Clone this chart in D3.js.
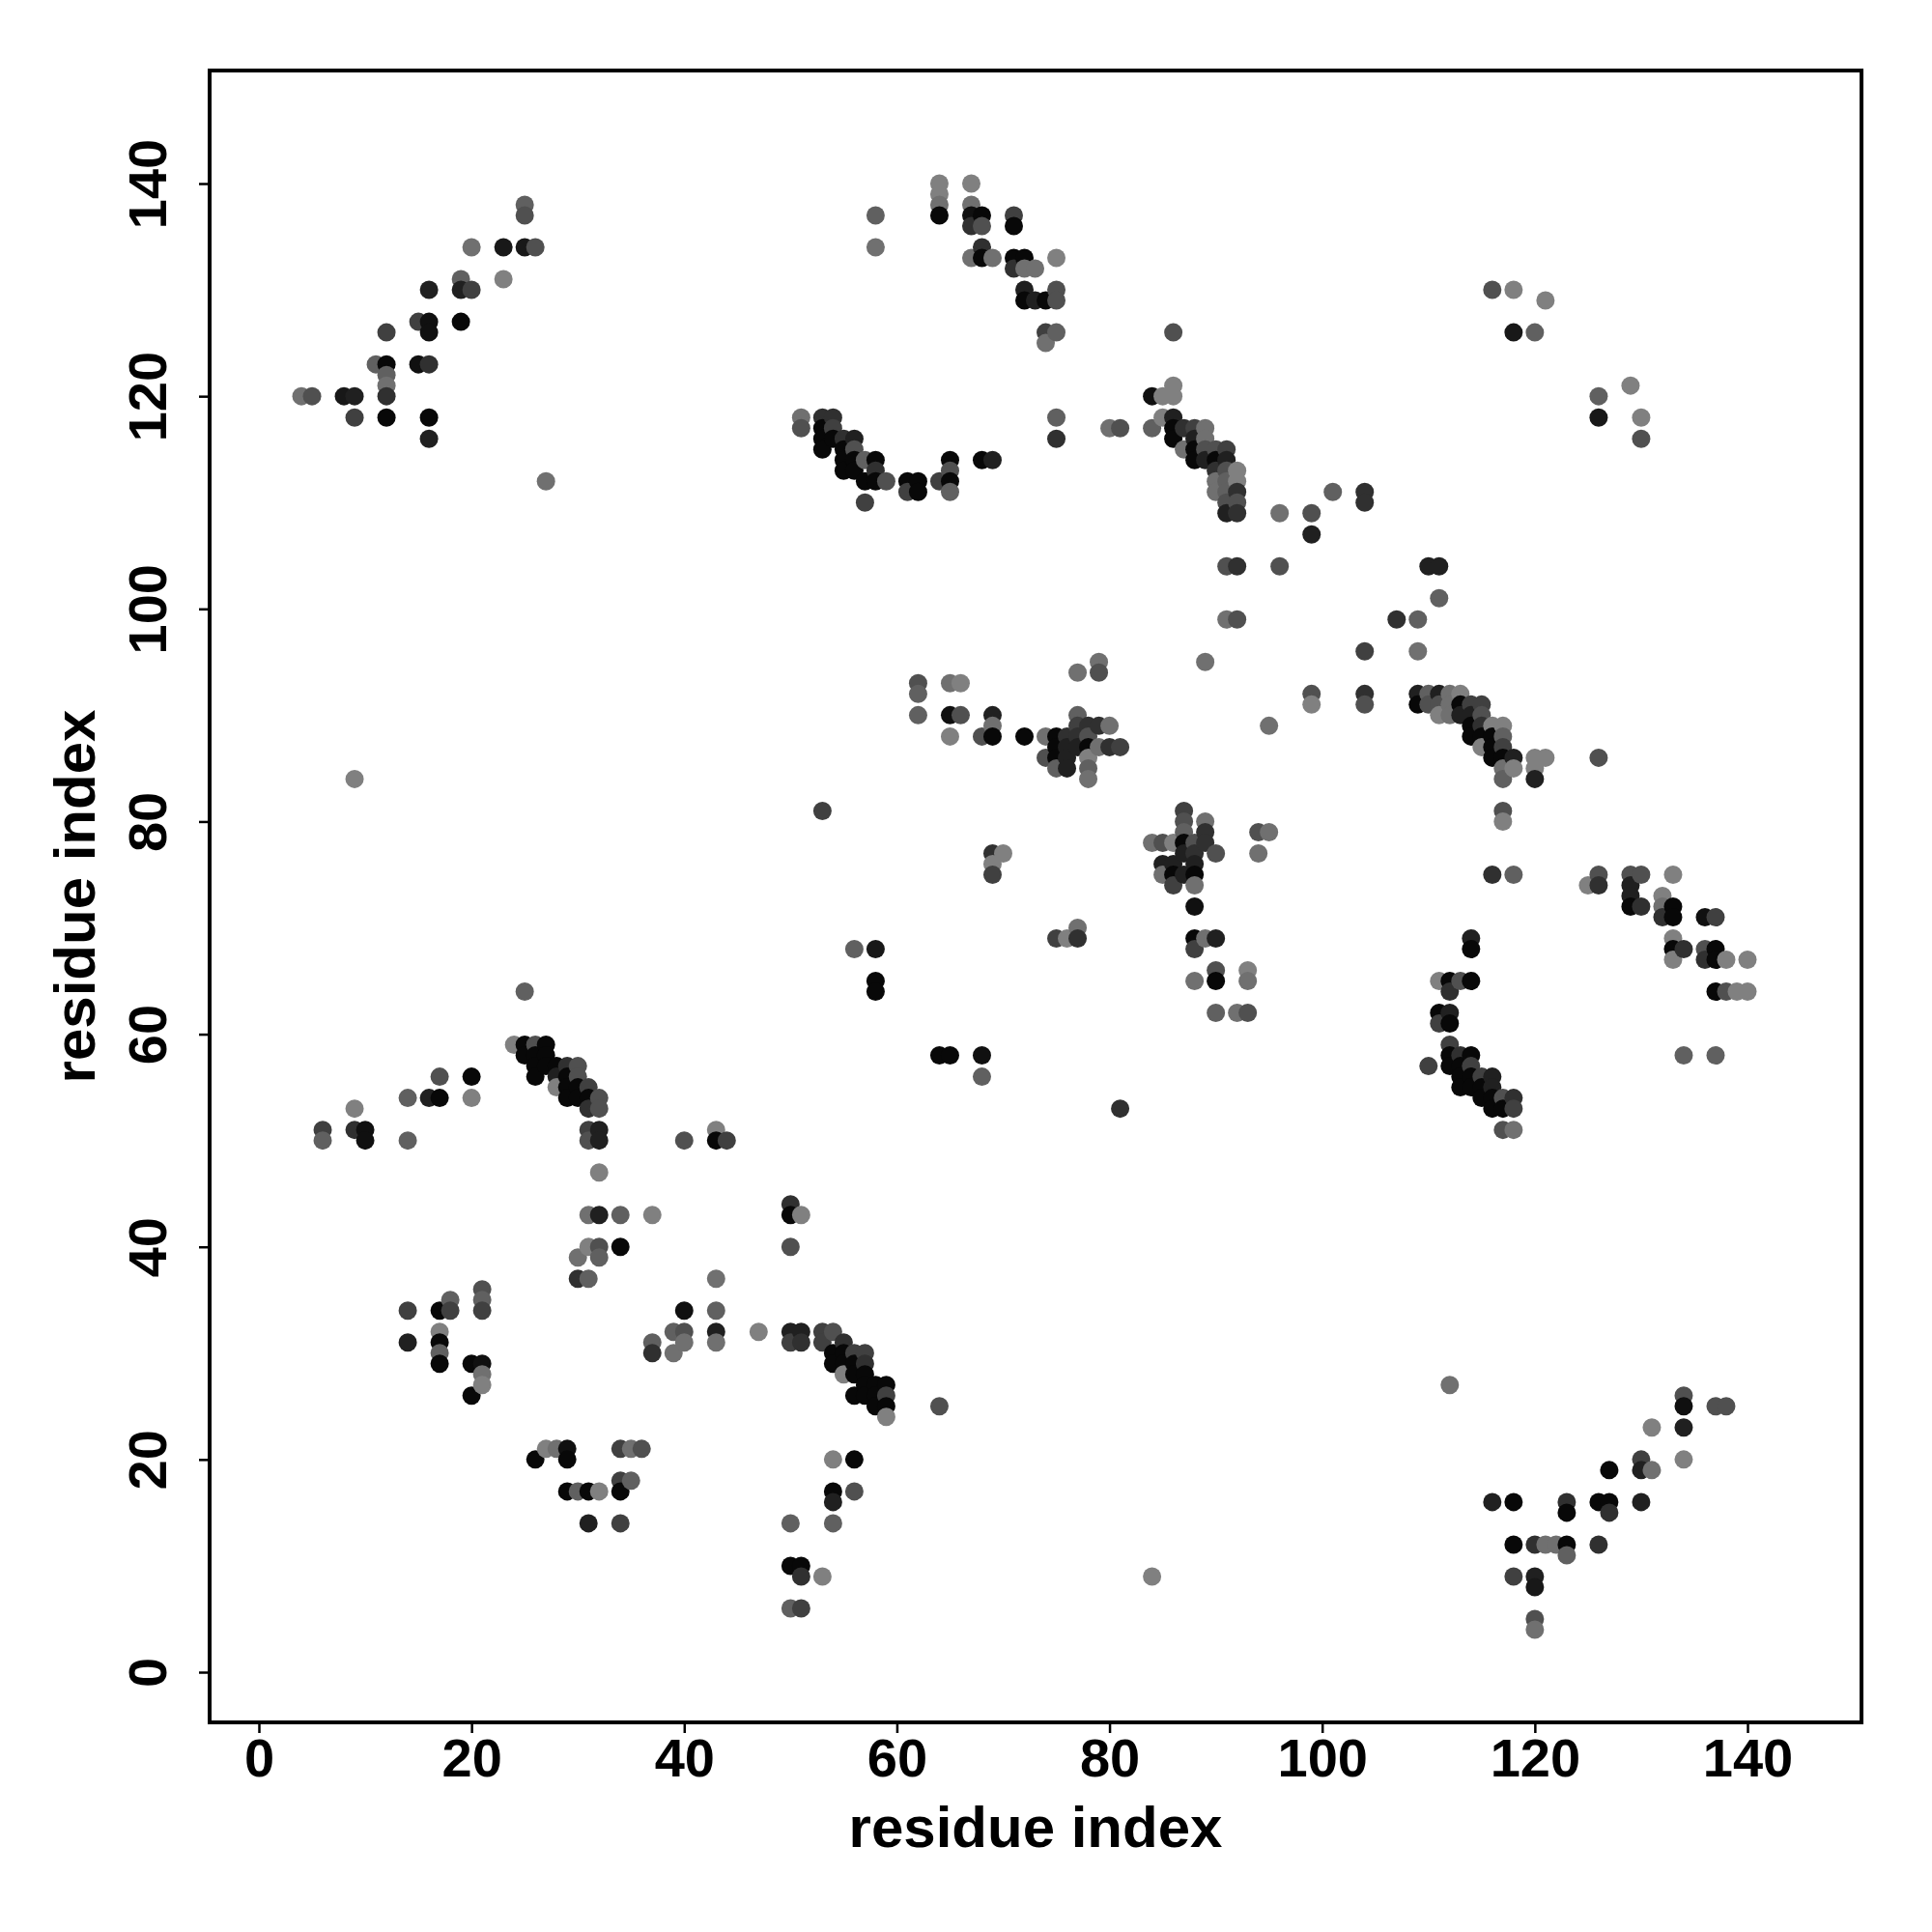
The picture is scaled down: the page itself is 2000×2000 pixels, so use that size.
<!DOCTYPE html>
<html>
<head>
<meta charset="utf-8">
<script src="https://cdn.jsdelivr.net/npm/d3@7"></script>
<style>
  html, body { margin: 0; padding: 0; background: #ffffff; }
  svg { display: block; }
</style>
</head>
<body>
<script>
// ---- data: contacts as [residue i (x), residue j (y), probability] ----
const xTicks = [0, 20, 40, 60, 80, 100, 120, 140];
const yTicks = [0, 20, 40, 60, 80, 100, 120, 140];
const xTitle = "residue index";
const yTitle = "residue index";

const contacts = [
  // upper-left strand
  [25,138,.45],[25,137,.55],[20,134,.35],[23,134,.9],[25,134,.9],[26,134,.55],[19,131,.45],[23,131,.25],
  [16,130,.85],[19,130,.85],[20,130,.65],[15,127,.65],[16,127,.95],[16,126,.95],[19,127,1],[12,126,.65],
  [11,123,.45],[12,123,1],[15,123,.95],[16,123,.75],[12,122,.45],[12,121,.35],[12,120,.75],[4,120,.35],
  [5,120,.55],[8,120,.9],[9,120,.85],[9,118,.65],[12,118,1],[16,118,1],[16,116,.85],[27,112,.35],
  // top-middle
  [58,137,.45],[58,134,.35],[64,140,.25],[64,139,.25],[64,138,.35],[64,137,1],[67,140,.25],[67,138,.35],
  [67,137,.95],[68,137,1],[67,136,.75],[68,136,.55],[71,137,.65],[71,136,1],[68,134,.75],[67,133,.35],
  [68,133,1],[69,133,.35],[71,133,1],[72,133,1],[71,132,.75],[72,132,.35],[73,132,.35],[75,133,.25],
  [72,130,.85],[72,129,1],[73,129,.85],[74,129,1],[75,130,.55],[75,129,.55],[74,126,.65],[75,126,.45],
  [74,125,.35],[86,126,.55],[86,121,.25],[84,120,.95],[85,120,.25],[86,120,.25],
  [51,118,.35],[51,117,.55],[53,118,.75],[54,118,.75],[53,117,1],[53,116,1],[53,115,1],[54,117,.65],
  [54,116,1],[55,116,.75],[55,115,1],[55,114,1],[55,113,1],[56,116,.85],[56,115,.55],[56,114,1],
  [56,113,1],[57,114,.45],[57,112,1],[58,114,1],[58,113,.75],[58,112,1],[59,112,.55],[57,110,.65],
  [61,112,1],[62,112,1],[61,111,.65],[62,111,1],[64,112,.65],[65,114,1],[65,113,.55],[65,112,1],
  [65,111,.45],[68,114,1],[69,114,.85],
  [75,118,.45],[75,116,.75],[80,117,.35],[81,117,.55],[84,117,.45],
  [85,118,.25],[86,118,.85],[86,117,1],[86,116,1],[87,115,.35],[87,117,.75],[88,117,.65],[89,117,.35],
  [88,116,.85],[88,115,1],[88,114,1],[89,116,.35],[89,115,.55],[89,114,.85],[90,115,.55],[90,114,1],
  [90,113,.75],[90,112,.35],[90,111,.35],[91,115,.65],[91,114,.85],[91,113,.55],[91,112,.45],[91,111,.45],
  [91,110,.55],[91,109,.85],[92,113,.25],[92,112,.25],[92,111,.75],[92,110,.55],[92,109,.75],
  [96,109,.35],[99,109,.55],[99,107,.85],[91,104,.55],[92,104,.75],[96,104,.55],[91,99,.35],[92,99,.55],
  // top-right
  [116,130,.55],[118,130,.25],[121,129,.25],[118,126,.9],[120,126,.45],[126,120,.45],[126,118,.9],
  [129,121,.25],[130,118,.25],[130,116,.55],[101,111,.45],[104,111,.75],[104,110,.75],[110,104,.85],
  [111,104,.85],[111,101,.45],[107,99,.75],[109,99,.45],
  // middle-left
  [9,84,.25],[25,64,.45],
  [24,59,.25],[25,59,1],[26,59,.55],[27,59,1],[25,58,1],[26,58,1],[27,58,1],[26,57,1],[27,57,1],
  [28,57,1],[29,57,.75],[30,57,.55],[26,56,1],[28,56,.85],[29,56,1],[30,56,.55],[28,55,.25],[29,55,1],
  [30,55,1],[31,55,.65],[29,54,1],[30,54,1],[31,54,1],[32,54,.55],[31,53,.75],[32,53,.55],[31,51,.65],
  [32,51,.85],[31,50,.55],[32,50,.85],[32,47,.25],
  [17,56,.55],[20,56,1],[14,54,.45],[16,54,.85],[17,54,1],[20,54,.25],[9,53,.25],[6,51,.65],[6,50,.45],
  [9,51,.75],[10,51,.95],[10,50,.95],[14,50,.45],[40,50,.55],[43,51,.25],[43,50,1],[44,50,.65],
  // center
  [89,95,.35],[77,94,.35],[79,95,.35],[79,94,.55],[62,93,.55],[62,92,.45],[65,93,.35],[66,93,.25],
  [62,90,.45],[65,90,.95],[66,90,.55],[69,90,.85],[69,89,.35],[65,88,.25],[68,88,.55],[69,88,1],[72,88,1],
  [74,88,.35],[75,88,1],[74,86,.55],[75,87,1],[75,86,1],[75,85,.45],[76,88,.75],[76,87,.85],[76,86,.85],
  [76,85,.85],[77,90,.45],[77,89,.65],[77,88,.75],[77,87,.85],[78,89,.75],[78,88,.55],[78,87,1],
  [78,86,.25],[78,85,.45],[78,84,.35],[79,89,.75],[79,87,.35],[80,89,.35],[80,87,.75],[81,87,.65],
  [95,89,.35],[99,92,.55],[99,91,.25],[53,81,.65],
  [69,77,.75],[70,77,.25],[69,76,.25],[69,75,.65],
  [87,81,.65],[87,80,.55],[89,80,.35],[89,79,.75],[87,79,.45],[84,78,.35],[85,78,.55],[86,78,.25],
  [87,78,1],[88,78,.55],[89,78,.75],[90,77,.55],[88,77,.75],[87,77,.85],[85,76,.85],[86,76,.85],
  [88,76,.85],[85,75,.35],[86,75,1],[87,75,.85],[88,75,1],[86,74,.65],[88,74,.35],[88,72,.95],
  [94,79,.55],[95,79,.35],[94,77,.35],
  [88,69,1],[89,69,.35],[90,69,.85],[88,68,.65],[88,65,.35],[90,66,.55],[90,65,1],[93,66,.25],
  [93,65,.35],[90,62,.45],[92,62,.35],[93,62,.55],
  [75,69,.65],[76,69,.25],[77,69,.75],[77,70,.35],
  [56,68,.45],[58,68,.9],[58,65,1],[58,64,1],[64,58,1],[65,58,1],[68,58,.95],[68,56,.45],[81,53,.75],
  // middle-right
  [104,96,.65],[109,96,.35],[104,92,.75],[104,91,.55],
  [109,92,.85],[109,91,1],[110,92,.45],[110,91,.55],[111,92,.85],[111,91,.55],[111,90,.25],[112,92,.35],
  [112,91,.35],[112,90,.35],[113,92,.25],[113,91,1],[113,90,.85],[114,91,.65],[114,90,.85],[114,89,1],
  [114,88,1],[115,91,.65],[115,90,.55],[115,89,.75],[115,88,1],[115,87,.25],[116,89,.25],[116,88,1],
  [116,87,1],[116,86,1],[117,89,.25],[117,88,.45],[117,87,.65],[117,86,1],[117,85,.35],[117,84,.45],
  [118,86,.85],[118,85,.25],[120,86,.25],[121,86,.25],[120,85,.25],[120,84,.85],
  [126,86,.55],[117,81,.55],[117,80,.25],[116,75,.75],[118,75,.45],
  [126,75,.55],[125,74,.25],[126,74,.75],[129,75,.55],[130,75,.55],[129,74,.85],[129,73,.85],[129,72,1],
  [130,72,.75],[133,75,.25],[132,73,.25],[132,72,.35],[132,71,.75],[133,72,1],[133,71,1],[136,71,.95],
  [137,71,.65],[133,69,.25],[133,68,1],[133,67,.25],[134,68,.75],[136,68,.55],[136,67,.75],[137,68,1],
  [137,67,1],[138,67,.25],[140,67,.25],[137,64,1],[138,64,.55],[139,64,.25],[140,64,.25],
  [134,58,.45],[137,58,.45],[114,69,.85],[114,68,1],
  [111,65,.25],[112,65,1],[113,65,.55],[114,65,1],[112,64,.75],[111,62,1],[112,62,.85],[111,61,.65],
  [112,61,1],[110,57,.65],[112,59,.65],[112,58,1],[112,57,1],[113,58,.75],[114,58,1],[113,57,1],
  [113,56,1],[113,55,1],[114,57,.65],[114,56,1],[114,55,1],[115,56,.65],[115,55,1],[115,54,1],
  [116,56,.85],[116,55,.85],[116,54,1],[116,53,1],[117,54,.55],[117,53,1],[118,54,.75],[118,53,.65],
  [117,51,.55],[118,51,.35],
  // lower-left
  [31,43,.35],[32,43,.85],[34,43,.45],[37,43,.25],[31,40,.25],[32,40,.55],[34,40,1],[32,39,.45],
  [30,39,.35],[30,37,.75],[31,37,.45],
  [21,36,.55],[21,35,.45],[21,34,.65],[18,35,.45],[17,34,1],[18,34,.65],[14,34,.65],[14,31,.85],
  [17,32,.25],[17,31,1],[17,30,.45],[17,29,1],[20,29,1],[21,29,.95],[21,28,.35],[21,27,.25],[20,26,1],
  [43,37,.35],[40,34,.95],[43,34,.45],[43,32,.85],[43,31,.35],[40,32,.55],[39,32,.45],[40,31,.35],
  [37,31,.45],[37,30,.75],[39,30,.35],[47,32,.25],
  [27,21,.25],[28,21,.35],[29,21,.95],[26,20,1],[29,20,1],[34,21,.65],[35,21,.35],[36,21,.55],
  [34,18,.65],[35,18,.45],[29,17,1],[30,17,.45],[31,17,1],[32,17,.25],[34,17,1],[31,14,.85],[34,14,.65],
  // lower-middle
  [50,44,.75],[50,43,1],[51,43,.25],[50,40,.55],
  [50,32,.85],[51,32,.85],[50,31,.65],[51,31,.75],[53,32,.65],[54,32,.55],[53,31,.65],[54,30,1],
  [54,29,1],[55,31,.75],[55,30,1],[55,29,1],[55,28,.25],[56,30,.65],[56,29,1],[56,28,1],[56,26,1],
  [57,30,.65],[57,29,.75],[57,28,1],[57,27,1],[57,26,1],[58,27,1],[58,26,1],[58,25,1],[59,27,1],
  [59,26,.65],[59,25,1],[59,24,.25],
  [64,25,.55],[54,20,.25],[56,20,1],[54,17,1],[54,16,.85],[56,17,.55],[50,14,.45],[54,14,.45],
  [50,10,1],[51,10,1],[51,9,.75],[53,9,.25],[50,6,.45],[51,6,.65],[84,9,.25],
  // lower-right
  [112,27,.35],[134,26,.55],[134,25,.95],[137,25,.55],[138,25,.55],[131,23,.25],[134,23,.85],
  [134,20,.25],[130,20,.65],[130,19,.85],[131,19,.35],[127,19,1],[116,16,.85],[118,16,1],[123,16,.75],
  [123,15,1],[126,16,1],[127,16,1],[127,15,.75],[130,16,.85],[118,12,1],[120,12,.75],[121,12,.35],
  [122,12,.35],[123,12,1],[123,11,.45],[126,12,.75],[118,9,.65],[120,9,.85],[120,8,.9],[120,5,.55],
  [120,4,.35]
];

// ---- layout ----
const W = 2000, H = 2000;
const plotL = 217, plotR = 1927, plotT = 73, plotB = 1783;
const fontFam = "'Liberation Sans', Arial, Helvetica, sans-serif";

const svg = d3.select("body").append("svg")
  .attr("width", W).attr("height", H)
  .style("background", "#ffffff");

const x = d3.scaleLinear().domain([-4.633, 150.72]).range([plotL, plotR]);
const y = d3.scaleLinear().domain([-4.724, 150.63]).range([plotB, plotT]);

const grey = d3.scaleLinear().domain([0.25, 1]).range(["#808080", "#080808"]).clamp(true);

// points (drawn in residue order)
const pts = contacts.slice().sort((a, b) => a[0] - b[0] || b[1] - a[1]);
svg.append("g")
  .selectAll("circle")
  .data(pts)
  .join("circle")
  .attr("cx", d => x(d[0]))
  .attr("cy", d => y(d[1]))
  .attr("r", 9.5)
  .attr("fill", d => grey(d[2]));

// x axis
const gx = svg.append("g")
  .attr("transform", `translate(0,${plotB})`)
  .call(d3.axisBottom(x).tickValues(xTicks).tickSize(11).tickSizeOuter(0).tickFormat(d3.format("d")));
gx.select(".domain").remove();
gx.selectAll(".tick line").attr("stroke", "#000").attr("stroke-width", 2.5);
gx.selectAll(".tick text")
  .attr("y", 56).attr("dy", 0)
  .attr("font-family", fontFam).attr("font-size", 56).attr("font-weight", "bold")
  .attr("fill", "#000");

// y axis
const gy = svg.append("g")
  .attr("transform", `translate(${plotL},0)`)
  .call(d3.axisLeft(y).tickValues(yTicks).tickSize(11).tickSizeOuter(0).tickFormat(d3.format("d")));
gy.select(".domain").remove();
gy.selectAll(".tick line").attr("stroke", "#000").attr("stroke-width", 2.5);
gy.selectAll(".tick text")
  .attr("transform", "rotate(-90)")
  .attr("x", 0).attr("y", -45).attr("dy", 0)
  .attr("text-anchor", "middle")
  .attr("font-family", fontFam).attr("font-size", 56).attr("font-weight", "bold")
  .attr("fill", "#000");

// frame
svg.append("rect")
  .attr("x", plotL).attr("y", plotT)
  .attr("width", plotR - plotL).attr("height", plotB - plotT)
  .attr("fill", "none").attr("stroke", "#000").attr("stroke-width", 4);

// titles
svg.append("text")
  .attr("x", (plotL + plotR) / 2).attr("y", 1912)
  .attr("text-anchor", "middle")
  .attr("font-family", fontFam).attr("font-size", 60).attr("font-weight", "bold")
  .text(xTitle);

svg.append("text")
  .attr("transform", `translate(98,${(plotT + plotB) / 2}) rotate(-90)`)
  .attr("text-anchor", "middle")
  .attr("font-family", fontFam).attr("font-size", 60).attr("font-weight", "bold")
  .text(yTitle);
</script>
</body>
</html>
